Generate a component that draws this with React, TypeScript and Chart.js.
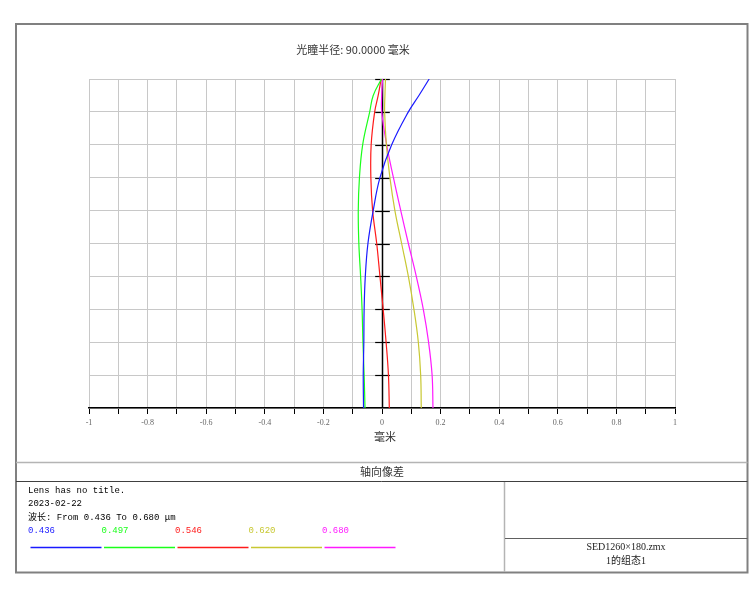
import React, { useEffect, useRef } from "react";
import { Chart, registerables } from "chart.js";

Chart.register(...registerables);

// Normalized pupil coordinate (vertical axis)
const pupil = [0, 0.1, 0.2, 0.3, 0.4, 0.5, 0.6, 0.7, 0.8, 0.9, 0.95, 1.0];
// Longitudinal aberration (mm) for each wavelength, at the pupil coordinates above
const ab436 = [-0.063, -0.064, -0.062, -0.061, -0.057, -0.048, -0.03, -0.007, 0.033, 0.09, 0.126, 0.161];
const ab497 = [-0.058, -0.061, -0.065, -0.068, -0.073, -0.079, -0.081, -0.077, -0.066, -0.042, -0.03, -0.002];
const ab546 = [0.025, 0.022, 0.014, 0.004, -0.007, -0.018, -0.032, -0.038, -0.037, -0.025, -0.013, -0.003];
const ab620 = [0.134, 0.132, 0.124, 0.109, 0.09, 0.067, 0.044, 0.027, 0.015, 0.009, 0.01, 0.012];
const ab680 = [0.174, 0.171, 0.159, 0.141, 0.117, 0.09, 0.064, 0.039, 0.016, -0.001, -0.001, 0.002];

const wavelengths = ["0.436", "0.497", "0.546", "0.620", "0.680"];
const colors = ["#1a1aff", "#1aff1a", "#ff1a1a", "#c8c832", "#ff1aff"];
const series = [ab436, ab497, ab546, ab620, ab680];

const xMin = -1;
const xMax = 1;
const xStep = 0.1;
const yMin = 0;
const yMax = 1;
const yStep = 0.1;

const titleText = "光瞳半径: 90.0000 毫米";
const axisTitle = "毫米";
const plotName = "轴向像差";
const infoLines = ["Lens has no title.", "2023-02-22", "波长: From 0.436 To 0.680 μm"];
const fileName = "SED1260×180.zmx";
const configName = "1的组态1";

const MONO = '"Liberation Mono", "Noto Sans CJK SC", monospace';
const CJK = '"Noto Sans CJK SC", "Liberation Serif", serif';
const SERIF = '"Liberation Serif", "Noto Sans CJK SC", serif';

const decorPlugin = {
  id: "decor",
  beforeDatasetsDraw(chart: any) {
    const ctx = chart.ctx;
    const xs = chart.scales.x;
    const ys = chart.scales.y;
    const x0 = Math.round(xs.getPixelForValue(0)) + 0.5;
    ctx.save();
    ctx.strokeStyle = "#000";
    ctx.lineWidth = 1.5;
    ctx.beginPath();
    ctx.moveTo(x0, ys.getPixelForValue(yMin));
    ctx.lineTo(x0, ys.getPixelForValue(yMax));
    ctx.stroke();
    ctx.lineWidth = 1.2;
    const half = xs.getPixelForValue(0.025) - xs.getPixelForValue(0);
    for (let v = yStep; v <= yMax + 1e-9; v += yStep) {
      const py = Math.round(ys.getPixelForValue(v)) + 0.5;
      ctx.beginPath();
      ctx.moveTo(x0 - half, py);
      ctx.lineTo(x0 + half, py);
      ctx.stroke();
    }
    ctx.restore();
  },
  afterDraw(chart: any) {
    const ctx = chart.ctx;
    ctx.save();
    // outer frame
    ctx.strokeStyle = "#808080";
    ctx.lineWidth = 2;
    ctx.strokeRect(16, 24, 731.5, 548.5);
    // separators
    ctx.strokeStyle = "#b4b4b4";
    ctx.lineWidth = 1.5;
    ctx.beginPath();
    ctx.moveTo(16, 462.5);
    ctx.lineTo(747.5, 462.5);
    ctx.stroke();
    ctx.beginPath();
    ctx.moveTo(504.5, 481.5);
    ctx.lineTo(504.5, 572);
    ctx.stroke();
    ctx.strokeStyle = "#404040";
    ctx.lineWidth = 1;
    ctx.beginPath();
    ctx.moveTo(16, 481.5);
    ctx.lineTo(747.5, 481.5);
    ctx.stroke();
    ctx.strokeStyle = "#606060";
    ctx.beginPath();
    ctx.moveTo(505, 538.5);
    ctx.lineTo(747.5, 538.5);
    ctx.stroke();

    // title
    ctx.fillStyle = "#333";
    ctx.textBaseline = "middle";
    ctx.font = "11px " + CJK;
    ctx.textAlign = "center";
    ctx.fillText(titleText, 353, 50);
    ctx.fillText(axisTitle, 385, 437);
    ctx.fillText(plotName, 382, 471.5);

    // info text
    ctx.fillStyle = "#000";
    ctx.textAlign = "left";
    ctx.font = "9px " + MONO;
    const infoY = [490.5, 504, 517.5];
    infoLines.forEach((t, i) => ctx.fillText(t, 28, infoY[i]));

    // legend
    const legX = [28, 101.5, 175, 248.5, 322];
    wavelengths.forEach((w, i) => {
      ctx.fillStyle = colors[i];
      ctx.fillText(w, legX[i], 531);
      ctx.strokeStyle = colors[i];
      ctx.lineWidth = 1.5;
      ctx.beginPath();
      ctx.moveTo(legX[i] + 2.5, 547.5);
      ctx.lineTo(legX[i] + 73.5, 547.5);
      ctx.stroke();
    });

    // right box
    ctx.fillStyle = "#222";
    ctx.textAlign = "center";
    ctx.font = "10px " + SERIF;
    ctx.fillText(fileName, 626, 547);
    ctx.fillText(configName, 626, 561);
    ctx.restore();
  },
};

export default function App() {
  const ref = useRef<HTMLCanvasElement | null>(null);

  useEffect(() => {
    if (!ref.current) return;
    const datasets = series.map((vals, i) => ({
      label: wavelengths[i],
      data: vals.map((v, j) => ({ x: v, y: pupil[j] })),
      borderColor: colors[i],
      backgroundColor: colors[i],
      borderWidth: 1.2,
      pointRadius: 0,
      showLine: true,
      tension: 0.4,
      fill: false,
    }));
    const chart = new Chart(ref.current, {
      type: "scatter",
      data: { datasets },
      options: {
        animation: false,
        responsive: false,
        events: [],
        layout: { padding: { left: 89, right: 81, top: 79, bottom: 162 } },
        plugins: {
          legend: { display: false },
          title: { display: false },
          tooltip: { enabled: false },
        },
        scales: {
          x: {
            type: "linear",
            min: xMin,
            max: xMax,
            afterFit: (s: any) => {
              s.height = 30;
            },
            ticks: {
              stepSize: xStep,
              autoSkip: false,
              maxRotation: 0,
              padding: 4,
              color: "#666",
              font: { size: 8, family: SERIF },
              callback: (v: any) => {
                const n = Math.round(Number(v) * 10);
                if (n % 2 !== 0) return "";
                return String(n / 10);
              },
            },
            grid: {
              color: "#c8c8c8",
              tickColor: "#000",
              tickLength: 6,
              lineWidth: 1,
            },
            border: { display: true, color: "#000", width: 1.5 },
          },
          y: {
            type: "linear",
            min: yMin,
            max: yMax,
            afterFit: (s: any) => {
              s.width = 0;
            },
            ticks: { stepSize: yStep, display: false },
            grid: { color: "#c8c8c8", drawTicks: false, lineWidth: 1 },
            border: { display: false },
          },
        },
      },
      plugins: [decorPlugin],
    });
    return () => chart.destroy();
  }, []);

  return (
    <div style={{ position: "absolute", left: 0, top: 0, width: 756, height: 600, background: "#fff" }}>
      <canvas ref={ref} width={756} height={600} style={{ display: "block" }} />
    </div>
  );
}
